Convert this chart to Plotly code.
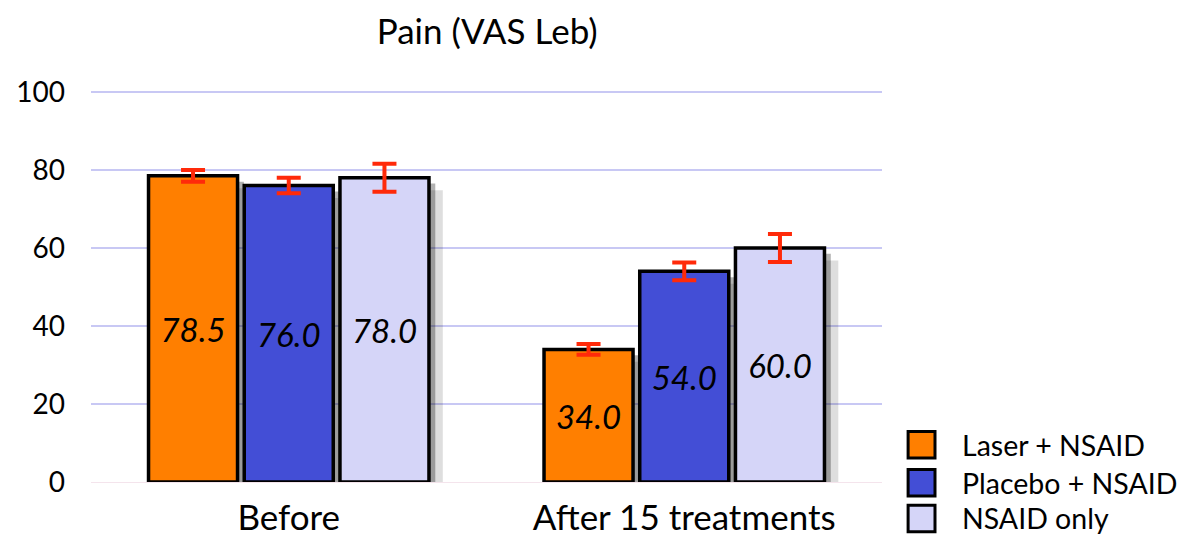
import plotly.graph_objects as go

categories = ["Before", "After 15 treatments"]
series_names = ["Laser + NSAID", "Placebo + NSAID", "NSAID only"]
laser = [78.5, 34.0]
placebo = [76.0, 54.0]
nsaid = [78.0, 60.0]
laser_err = [1.5, 1.4]
placebo_err = [2.0, 2.3]
nsaid_err = [3.6, 3.6]
colors = ["#ff7f00", "#434ed6", "#d5d5f8"]
y_ticks = [0, 20, 40, 60, 80, 100]

FONT = "Lato, 'Open Sans', sans-serif"
Y_MAX = 100.5

all_vals = [laser, placebo, nsaid]
all_errs = [laser_err, placebo_err, nsaid_err]

fig = go.Figure()

# soft drop shadows (two layers, shifted via axis ranges)
shadow_layers = [("x", "y", "rgba(0,0,0,0.13)"),
                 ("x2", "y2", "rgba(0,0,0,0.30)")]
for xa, ya, col in shadow_layers:
    for vals in all_vals:
        fig.add_trace(go.Bar(x=categories, y=vals, xaxis=xa, yaxis=ya,
                             marker=dict(color=col, line=dict(width=0)),
                             showlegend=False, hoverinfo="skip"))

for name, vals, errs, col in zip(series_names, all_vals, all_errs, colors):
    fig.add_trace(go.Bar(
        x=categories, y=vals, name=name, xaxis="x3", yaxis="y3",
        marker=dict(color=col, line=dict(color="black", width=3.5)),
        error_y=dict(type="data", array=errs, color="#ff2a0a", thickness=4, width=12),
        text=[f"{v:.1f}" for v in vals],
        textposition="inside", insidetextanchor="middle",
        textfont=dict(family=FONT, size=33, color="black", style="italic"),
        textangle=0,
        showlegend=False,
    ))

# manual legend (large swatches)
leg_y = [0.095, -0.002, -0.093]
for name, col, yy in zip(series_names, colors, leg_y):
    fig.add_shape(type="rect", xref="paper", yref="paper",
                  x0=1.033, x1=1.067, y0=yy - 0.034, y1=yy + 0.034,
                  fillcolor=col, line=dict(color="black", width=3))
    fig.add_annotation(xref="paper", yref="paper", x=1.098, y=yy,
                       text=name, showarrow=False, xanchor="left", yanchor="middle",
                       font=dict(family=FONT, size=28.5, color="black"))

hidden = dict(showgrid=False, zeroline=False, showticklabels=False, ticks="",
              showline=False, fixedrange=True, automargin=False)
fig.update_layout(
    width=1189, height=529,
    margin=dict(l=83, r=315, t=82, b=55),
    paper_bgcolor="white", plot_bgcolor="white",
    barmode="group", bargap=0.274, bargroupgap=0.07,
    title=dict(text="Pain (VAS Leb)", x=0.403, xanchor="center", y=0.955, yanchor="middle",
               font=dict(family=FONT, size=35, color="black"), automargin=False),
    font=dict(family=FONT, color="black"),
    xaxis=dict(range=[-0.5 - 0.035, 1.5 - 0.035], **hidden),
    yaxis=dict(range=[3.2, Y_MAX + 3.2], **hidden),
    xaxis2=dict(range=[-0.5 - 0.016, 1.5 - 0.016], overlaying="x", **hidden),
    yaxis2=dict(range=[1.5, Y_MAX + 1.5], overlaying="y", **hidden),
    xaxis3=dict(range=[-0.5, 1.5], overlaying="x", side="bottom", automargin=False,
                tickfont=dict(family=FONT, size=35), showline=False, showgrid=False,
                ticklabelstandoff=12),
    yaxis3=dict(range=[0, Y_MAX], overlaying="y", side="left", tickvals=y_ticks,
                automargin=False,
                showgrid=True, gridcolor="#c8c8f4", gridwidth=2, zeroline=True,
                zerolinecolor="#f4e4ec", zerolinewidth=1,
                tickfont=dict(family=FONT, size=28), ticklabelstandoff=25,
                showline=False),
)

fig.write_html("out.html")
